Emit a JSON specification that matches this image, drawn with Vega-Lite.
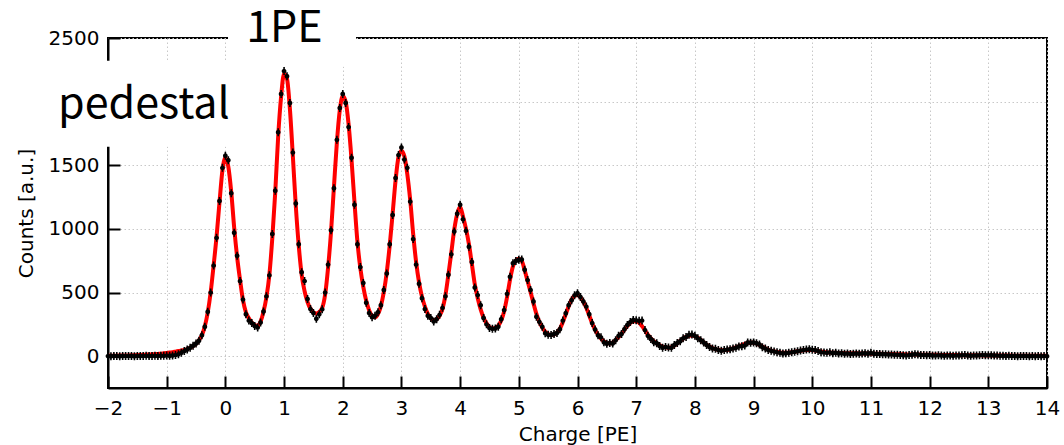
{
  "$schema": "https://vega.github.io/schema/vega-lite/v6.json",
  "width": 939,
  "height": 350,
  "autosize": "none",
  "padding": {"left": 108, "top": 38, "right": 17, "bottom": 57},
  "background": "white",
  "datasets": {
    "spectrum": [
      {"x":-2.00,"c":1,"f":3},{"x":-1.95,"c":0,"f":3},{"x":-1.90,"c":2,"f":4},{"x":-1.85,"c":1,"f":4},
      {"x":-1.80,"c":0,"f":5},{"x":-1.75,"c":2,"f":5},{"x":-1.70,"c":1,"f":6},{"x":-1.65,"c":1,"f":6},
      {"x":-1.60,"c":2,"f":7},{"x":-1.55,"c":0,"f":8},{"x":-1.50,"c":1,"f":9},{"x":-1.45,"c":2,"f":10},
      {"x":-1.40,"c":1,"f":11},{"x":-1.35,"c":3,"f":12},{"x":-1.30,"c":2,"f":13},{"x":-1.25,"c":1,"f":15},
      {"x":-1.20,"c":3,"f":16},{"x":-1.15,"c":2,"f":18},{"x":-1.10,"c":4,"f":20},{"x":-1.05,"c":3,"f":23},
      {"x":-1.00,"c":5,"f":26},{"x":-0.95,"c":4,"f":29},{"x":-0.90,"c":6,"f":32},{"x":-0.85,"c":9,"f":36},
      {"x":-0.80,"c":16,"f":40},{"x":-0.75,"c":27,"f":44},{"x":-0.70,"c":40,"f":49},{"x":-0.65,"c":53,"f":56},
      {"x":-0.60,"c":66,"f":66},{"x":-0.55,"c":82,"f":80},{"x":-0.50,"c":100,"f":98},{"x":-0.45,"c":122,"f":125},
      {"x":-0.40,"c":165,"f":165},{"x":-0.35,"c":232,"f":235},{"x":-0.30,"c":350,"f":345},{"x":-0.25,"c":500,"f":505},
      {"x":-0.20,"c":712,"f":715},{"x":-0.15,"c":930,"f":940},{"x":-0.10,"c":1220,"f":1210},{"x":-0.05,"c":1480,"f":1460},
      {"x":0.00,"c":1575,"f":1560},{"x":0.05,"c":1540,"f":1490},{"x":0.10,"c":1280,"f":1290},{"x":0.15,"c":970,"f":1010},
      {"x":0.20,"c":790,"f":780},{"x":0.25,"c":590,"f":600},{"x":0.30,"c":445,"f":440},{"x":0.35,"c":330,"f":345},
      {"x":0.40,"c":280,"f":298},{"x":0.45,"c":260,"f":265},{"x":0.50,"c":238,"f":245},{"x":0.55,"c":225,"f":238},
      {"x":0.60,"c":265,"f":272},{"x":0.65,"c":352,"f":350},{"x":0.70,"c":470,"f":465},{"x":0.75,"c":635,"f":640},
      {"x":0.80,"c":960,"f":930},{"x":0.85,"c":1300,"f":1290},{"x":0.90,"c":1760,"f":1730},{"x":0.95,"c":2060,"f":2040},
      {"x":1.00,"c":2240,"f":2220},{"x":1.05,"c":2200,"f":2180},{"x":1.10,"c":1990,"f":1940},{"x":1.15,"c":1600,"f":1570},
      {"x":1.20,"c":1200,"f":1180},{"x":1.25,"c":880,"f":870},{"x":1.30,"c":660,"f":640},{"x":1.35,"c":590,"f":510},
      {"x":1.40,"c":450,"f":425},{"x":1.45,"c":370,"f":372},{"x":1.50,"c":340,"f":345},{"x":1.55,"c":295,"f":336},
      {"x":1.60,"c":330,"f":348},{"x":1.65,"c":368,"f":380},{"x":1.70,"c":500,"f":485},{"x":1.75,"c":720,"f":695},
      {"x":1.80,"c":990,"f":975},{"x":1.85,"c":1320,"f":1330},{"x":1.90,"c":1700,"f":1680},{"x":1.95,"c":1950,"f":1935},
      {"x":2.00,"c":2060,"f":2045},{"x":2.05,"c":1990,"f":2000},{"x":2.10,"c":1800,"f":1820},{"x":2.15,"c":1560,"f":1540},
      {"x":2.20,"c":1190,"f":1210},{"x":2.25,"c":880,"f":900},{"x":2.30,"c":700,"f":690},{"x":2.35,"c":575,"f":545},
      {"x":2.40,"c":420,"f":435},{"x":2.45,"c":340,"f":360},{"x":2.50,"c":306,"f":318},{"x":2.55,"c":318,"f":305},
      {"x":2.60,"c":345,"f":330},{"x":2.65,"c":400,"f":395},{"x":2.70,"c":520,"f":505},{"x":2.75,"c":650,"f":660},
      {"x":2.80,"c":880,"f":870},{"x":2.85,"c":1110,"f":1120},{"x":2.90,"c":1400,"f":1380},{"x":2.95,"c":1580,"f":1565},
      {"x":3.00,"c":1640,"f":1615},{"x":3.05,"c":1545,"f":1570},{"x":3.10,"c":1480,"f":1430},{"x":3.15,"c":1215,"f":1225},
      {"x":3.20,"c":920,"f":960},{"x":3.25,"c":720,"f":740},{"x":3.30,"c":570,"f":580},{"x":3.35,"c":455,"f":468},
      {"x":3.40,"c":370,"f":390},{"x":3.45,"c":318,"f":333},{"x":3.50,"c":300,"f":298},{"x":3.55,"c":272,"f":283},
      {"x":3.60,"c":290,"f":290},{"x":3.65,"c":325,"f":318},{"x":3.70,"c":380,"f":372},{"x":3.75,"c":470,"f":480},
      {"x":3.80,"c":640,"f":640},{"x":3.85,"c":800,"f":815},{"x":3.90,"c":980,"f":995},{"x":3.95,"c":1120,"f":1118},
      {"x":4.00,"c":1190,"f":1175},{"x":4.05,"c":1075,"f":1095},{"x":4.10,"c":985,"f":1000},{"x":4.15,"c":860,"f":880},
      {"x":4.20,"c":740,"f":725},{"x":4.25,"c":540,"f":565},{"x":4.30,"c":480,"f":455},{"x":4.35,"c":400,"f":368},
      {"x":4.40,"c":300,"f":302},{"x":4.45,"c":250,"f":258},{"x":4.50,"c":222,"f":230},{"x":4.55,"c":215,"f":219},
      {"x":4.60,"c":218,"f":222},{"x":4.65,"c":232,"f":240},{"x":4.70,"c":290,"f":280},{"x":4.75,"c":362,"f":352},
      {"x":4.80,"c":490,"f":465},{"x":4.85,"c":625,"f":600},{"x":4.90,"c":730,"f":705},{"x":4.95,"c":748,"f":752},
      {"x":5.00,"c":758,"f":765},{"x":5.05,"c":760,"f":748},{"x":5.10,"c":680,"f":675},{"x":5.15,"c":598,"f":590},
      {"x":5.20,"c":520,"f":505},{"x":5.25,"c":430,"f":415},{"x":5.30,"c":310,"f":332},{"x":5.35,"c":270,"f":268},
      {"x":5.40,"c":232,"f":225},{"x":5.45,"c":180,"f":193},{"x":5.50,"c":168,"f":174},{"x":5.55,"c":166,"f":167},
      {"x":5.60,"c":175,"f":170},{"x":5.65,"c":183,"f":185},{"x":5.70,"c":212,"f":215},{"x":5.75,"c":280,"f":268},
      {"x":5.80,"c":338,"f":330},{"x":5.85,"c":400,"f":392},{"x":5.90,"c":440,"f":445},{"x":5.95,"c":478,"f":474},
      {"x":6.00,"c":495,"f":480},{"x":6.05,"c":465,"f":462},{"x":6.10,"c":430,"f":428},{"x":6.15,"c":390,"f":380},
      {"x":6.20,"c":330,"f":320},{"x":6.25,"c":260,"f":258},{"x":6.30,"c":210,"f":208},{"x":6.35,"c":165,"f":170},
      {"x":6.40,"c":148,"f":140},{"x":6.45,"c":110,"f":116},{"x":6.50,"c":98,"f":103},{"x":6.55,"c":104,"f":100},
      {"x":6.60,"c":100,"f":108},{"x":6.65,"c":125,"f":126},{"x":6.70,"c":160,"f":150},{"x":6.75,"c":175,"f":178},
      {"x":6.80,"c":212,"f":208},{"x":6.85,"c":245,"f":238},{"x":6.90,"c":268,"f":262},{"x":6.95,"c":285,"f":274},
      {"x":7.00,"c":282,"f":275},{"x":7.05,"c":278,"f":263},{"x":7.10,"c":280,"f":236},{"x":7.15,"c":205,"f":202},
      {"x":7.20,"c":160,"f":168},{"x":7.25,"c":135,"f":140},{"x":7.30,"c":110,"f":118},{"x":7.35,"c":102,"f":100},
      {"x":7.40,"c":80,"f":86},{"x":7.45,"c":66,"f":75},{"x":7.50,"c":72,"f":69},{"x":7.55,"c":68,"f":67},
      {"x":7.60,"c":66,"f":72},{"x":7.65,"c":88,"f":84},{"x":7.70,"c":104,"f":101},{"x":7.75,"c":118,"f":120},
      {"x":7.80,"c":140,"f":138},{"x":7.85,"c":150,"f":152},{"x":7.90,"c":168,"f":161},{"x":7.95,"c":170,"f":163},
      {"x":8.00,"c":160,"f":158},{"x":8.05,"c":140,"f":146},{"x":8.10,"c":125,"f":128},{"x":8.15,"c":108,"f":109},
      {"x":8.20,"c":88,"f":91},{"x":8.25,"c":72,"f":76},{"x":8.30,"c":60,"f":64},{"x":8.35,"c":58,"f":56},
      {"x":8.40,"c":48,"f":50},{"x":8.45,"c":42,"f":47},{"x":8.50,"c":48,"f":47},{"x":8.55,"c":52,"f":50},
      {"x":8.60,"c":55,"f":55},{"x":8.65,"c":60,"f":61},{"x":8.70,"c":66,"f":69},{"x":8.75,"c":76,"f":78},
      {"x":8.80,"c":78,"f":88},{"x":8.85,"c":84,"f":97},{"x":8.90,"c":108,"f":104},{"x":8.95,"c":106,"f":107},
      {"x":9.00,"c":108,"f":106},{"x":9.05,"c":102,"f":100},{"x":9.10,"c":92,"f":89},{"x":9.15,"c":70,"f":76},
      {"x":9.20,"c":60,"f":63},{"x":9.25,"c":48,"f":52},{"x":9.30,"c":42,"f":44},{"x":9.35,"c":36,"f":38},
      {"x":9.40,"c":30,"f":33},{"x":9.45,"c":26,"f":29},{"x":9.50,"c":22,"f":27},{"x":9.55,"c":24,"f":27},
      {"x":9.60,"c":26,"f":28},{"x":9.65,"c":30,"f":31},{"x":9.70,"c":34,"f":35},{"x":9.75,"c":38,"f":39},
      {"x":9.80,"c":44,"f":43},{"x":9.85,"c":48,"f":46},{"x":9.90,"c":52,"f":48},{"x":9.95,"c":55,"f":49},
      {"x":10.00,"c":50,"f":48},{"x":10.05,"c":48,"f":45},{"x":10.10,"c":40,"f":41},{"x":10.15,"c":30,"f":37},
      {"x":10.20,"c":28,"f":33},{"x":10.25,"c":26,"f":30},{"x":10.30,"c":30,"f":28},{"x":10.35,"c":24,"f":27},
      {"x":10.40,"c":27,"f":26},{"x":10.45,"c":22,"f":25},{"x":10.50,"c":24,"f":25},{"x":10.55,"c":20,"f":24},
      {"x":10.60,"c":22,"f":24},{"x":10.65,"c":18,"f":24},{"x":10.70,"c":20,"f":23},{"x":10.75,"c":22,"f":23},
      {"x":10.80,"c":19,"f":22},{"x":10.85,"c":21,"f":22},{"x":10.90,"c":24,"f":21},{"x":10.95,"c":20,"f":21},
      {"x":11.00,"c":26,"f":20},{"x":11.05,"c":20,"f":20},{"x":11.10,"c":17,"f":19},{"x":11.15,"c":18,"f":19},
      {"x":11.20,"c":15,"f":18},{"x":11.25,"c":16,"f":18},{"x":11.30,"c":14,"f":17},{"x":11.35,"c":13,"f":17},
      {"x":11.40,"c":12,"f":16},{"x":11.45,"c":11,"f":16},{"x":11.50,"c":10,"f":15},{"x":11.55,"c":8,"f":15},
      {"x":11.60,"c":5,"f":14},{"x":11.65,"c":9,"f":14},{"x":11.70,"c":12,"f":14},{"x":11.75,"c":15,"f":13},
      {"x":11.80,"c":14,"f":13},{"x":11.85,"c":10,"f":12},{"x":11.90,"c":9,"f":12},{"x":11.95,"c":8,"f":12},
      {"x":12.00,"c":10,"f":11},{"x":12.05,"c":6,"f":11},{"x":12.10,"c":5,"f":11},{"x":12.15,"c":7,"f":10},
      {"x":12.20,"c":6,"f":10},{"x":12.25,"c":4,"f":10},{"x":12.30,"c":5,"f":9},{"x":12.35,"c":6,"f":9},
      {"x":12.40,"c":4,"f":9},{"x":12.45,"c":5,"f":9},{"x":12.50,"c":6,"f":8},{"x":12.55,"c":7,"f":8},
      {"x":12.60,"c":9,"f":8},{"x":12.65,"c":6,"f":8},{"x":12.70,"c":4,"f":7},{"x":12.75,"c":5,"f":7},
      {"x":12.80,"c":6,"f":7},{"x":12.85,"c":7,"f":7},{"x":12.90,"c":9,"f":6},{"x":12.95,"c":8,"f":6},
      {"x":13.00,"c":7,"f":6},{"x":13.05,"c":8,"f":6},{"x":13.10,"c":6,"f":6},{"x":13.15,"c":5,"f":5},
      {"x":13.20,"c":3,"f":5},{"x":13.25,"c":4,"f":5},{"x":13.30,"c":2,"f":5},{"x":13.35,"c":3,"f":5},
      {"x":13.40,"c":1,"f":4},{"x":13.45,"c":2,"f":4},{"x":13.50,"c":0,"f":4},{"x":13.55,"c":1,"f":4},
      {"x":13.60,"c":2,"f":4},{"x":13.65,"c":1,"f":4},{"x":13.70,"c":0,"f":3},{"x":13.75,"c":1,"f":3},
      {"x":13.80,"c":0,"f":3},{"x":13.85,"c":1,"f":3},{"x":13.90,"c":0,"f":3},{"x":13.95,"c":1,"f":3},
      {"x":14.00,"c":0,"f":3}
    ],
    "notes": [
      {"label": "pedestal"},
      {"label": "1PE"}
    ]
  },
  "layer": [
    {
      "data": {"name": "spectrum"},
      "mark": {"type": "line", "color": "#ff0000", "strokeWidth": 4, "interpolate": "monotone"},
      "encoding": {
        "x": {
          "field": "x",
          "type": "quantitative",
          "scale": {"domain": [-2, 14], "nice": false, "zero": false},
          "axis": {
            "title": "Charge [PE]",
            "format": "d",
            "values": [-2, -1, 0, 1, 2, 3, 4, 5, 6, 7, 8, 9, 10, 11, 12, 13, 14]
          }
        },
        "y": {
          "field": "f",
          "type": "quantitative",
          "scale": {"domain": [-250, 2500], "nice": false, "zero": false},
          "axis": {
            "title": "Counts [a.u.]",
            "format": "d",
            "values": [0, 500, 1000, 1500, 2000, 2500],
            "labelExpr": "datum.value === 2000 ? '' : datum.label"
          }
        }
      }
    },
    {
      "data": {"name": "spectrum"},
      "mark": {
        "type": "point",
        "filled": true,
        "color": "black",
        "opacity": 1,
        "size": 64,
        "shape": "M-0.6,0A0.6,0.6 0 1,1 0.6,0A0.6,0.6 0 1,1 -0.6,0ZM-0.2,-1H0.2V1H-0.2Z"
      },
      "encoding": {
        "x": {"field": "x", "type": "quantitative"},
        "y": {"field": "c", "type": "quantitative"}
      }
    },
    {
      "data": {"name": "notes"},
      "transform": [{"filter": "datum.label === 'pedestal'"}],
      "mark": {"type": "rect", "color": "white", "clip": false},
      "encoding": {
        "x": {"datum": -3.2, "type": "quantitative"},
        "x2": {"datum": 0.59},
        "y": {"datum": 1645, "type": "quantitative"},
        "y2": {"datum": 2322}
      }
    },
    {
      "data": {"name": "notes"},
      "transform": [{"filter": "datum.label === '1PE'"}],
      "mark": {"type": "rect", "color": "white", "clip": false},
      "encoding": {
        "x": {"datum": 0.045, "type": "quantitative"},
        "x2": {"datum": 2.226},
        "y": {"datum": 2274, "type": "quantitative"},
        "y2": {"datum": 2850}
      }
    },
    {
      "data": {"name": "notes"},
      "transform": [{"filter": "datum.label === 'pedestal'"}],
      "mark": {
        "type": "text",
        "font": "Noto Sans CJK JP",
        "fontSize": 43,
        "align": "left",
        "baseline": "alphabetic",
        "color": "black"
      },
      "encoding": {
        "x": {"datum": -2.852, "type": "quantitative"},
        "y": {"datum": 1871, "type": "quantitative"},
        "text": {"field": "label"}
      }
    },
    {
      "data": {"name": "notes"},
      "transform": [{"filter": "datum.label === '1PE'"}],
      "mark": {
        "type": "text",
        "font": "Noto Sans CJK JP",
        "fontSize": 43,
        "align": "left",
        "baseline": "alphabetic",
        "color": "black"
      },
      "encoding": {
        "x": {"datum": 0.355, "type": "quantitative"},
        "y": {"datum": 2465, "type": "quantitative"},
        "text": {"field": "label"}
      }
    }
  ],
  "config": {
    "view": {"stroke": "black", "strokeWidth": 2},
    "axis": {
      "domainColor": "black",
      "domainWidth": 2,
      "tickColor": "black",
      "tickWidth": 2,
      "tickSize": -12,
      "labelFont": "DejaVu Sans",
      "labelFontSize": 20,
      "labelColor": "black",
      "labelFlush": false,
      "labelOverlap": false,
      "titleFont": "DejaVu Sans",
      "titleFontSize": 20,
      "titleFontWeight": "normal",
      "titleColor": "black",
      "grid": true,
      "gridColor": "#c8c8c8",
      "gridDash": [1.5, 2.5],
      "gridWidth": 1
    },
    "axisX": {"labelPadding": 22, "titlePadding": 6},
    "axisY": {"labelPadding": 21, "titlePadding": 12}
  }
}
